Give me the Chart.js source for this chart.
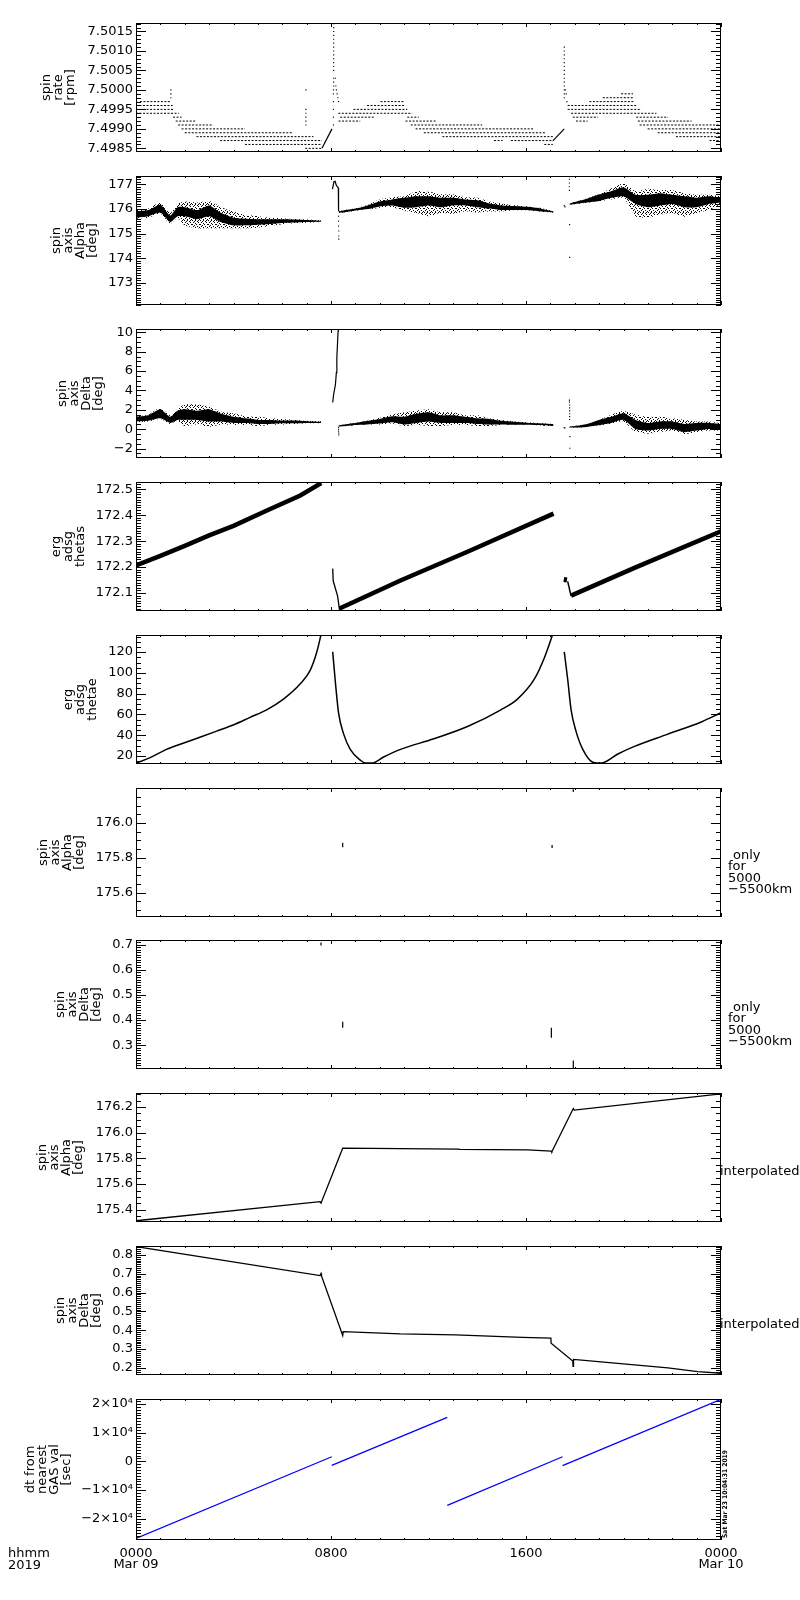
<!DOCTYPE html>
<html>
<head>
<meta charset="utf-8">
<script src="https://cdn.jsdelivr.net/npm/chart.js@4.4.1/dist/chart.umd.min.js"></script>
<style>
  html, body { margin: 0; padding: 0; background: #fff; }
  body { position: relative; width: 800px; height: 1600px; overflow: hidden; }
  canvas { position: absolute; left: 0; }
</style>
</head>
<body>
<script>
// --- eje de tiempo (horas desde 0000 Mar 09) ---
const hourTicks = [0, 8, 16, 24];
const hourLabels = [['0000', 'Mar 09'], '0800', '1600', ['0000', 'Mar 10']];

// --- panel 1: spin rate [rpm], niveles cuantizados [nivel, desde, hasta] ---
const spinBands = [
  [7.4997, 0.16, 1.45], [7.4996, 0.0, 1.5], [7.4995, 0.0, 1.55], [7.4994, 0.0, 1.75],
  [7.4993, 1.52, 1.87], [7.4992, 1.63, 2.48], [7.4991, 1.73, 3.17], [7.4990, 1.87, 4.47],
  [7.4989, 2.0, 6.39], [7.4988, 2.48, 7.28], [7.4987, 3.45, 7.63], [7.4986, 4.47, 7.63],
  [7.4985, 6.94, 7.63],
  [7.4997, 10.03, 11.0], [7.4996, 9.48, 11.06], [7.4995, 8.92, 11.13], [7.4994, 8.3, 11.33],
  [7.4993, 8.38, 9.76], [7.4993, 11.13, 11.6], [7.4992, 8.31, 9.2], [7.4992, 11.06, 12.3],
  [7.4991, 11.27, 14.2], [7.4990, 11.47, 16.34], [7.4989, 11.81, 16.82], [7.4988, 12.57, 17.1],
  [7.4987, 14.69, 15.04], [7.4987, 15.38, 17.1], [7.4986, 16.75, 17.1],
  [7.4999, 19.9, 20.39], [7.4998, 19.15, 20.39], [7.4997, 18.6, 20.45], [7.4996, 17.71, 20.52],
  [7.4995, 17.71, 20.73], [7.4994, 17.85, 21.35], [7.4993, 17.92, 18.95], [7.4993, 20.52, 21.83],
  [7.4992, 18.05, 18.53], [7.4992, 20.59, 22.79], [7.4991, 20.66, 24], [7.4990, 20.99, 24],
  [7.4989, 21.4, 24], [7.4988, 22.15, 24], [7.4987, 23.53, 24]
];
const spinRampA = [[7.63, 7.4985], [8.04, 7.4990]];
const spinRampB = [[17.1, 7.49869], [17.57, 7.4990]];
const spinDots = [
  [1.43, 7.5000], [1.43, 7.4999], [1.43, 7.4998],
  [6.97, 7.5000], [6.97, 7.4995], [6.97, 7.4994], [6.97, 7.4993], [6.97, 7.4992], [6.97, 7.4991],
  [8.1, 7.4991], [8.1, 7.4993], [8.1, 7.4995], [8.1, 7.4997], [8.1, 7.4999], [8.1, 7.5000],
  [8.11, 7.5001], [8.11, 7.5002], [8.11, 7.5003], [8.11, 7.5005], [8.11, 7.5006], [8.11, 7.5007],
  [8.11, 7.5008], [8.11, 7.5009], [8.11, 7.5010], [8.11, 7.5011], [8.11, 7.5012], [8.11, 7.5013],
  [8.11, 7.5014], [8.11, 7.5015], [8.11, 7.5016], [8.11, 7.5017],
  [8.18, 7.5003], [8.2, 7.5001], [8.22, 7.5000], [8.25, 7.4999], [8.28, 7.4998], [8.31, 7.4997],
  [17.57, 7.4998], [17.57, 7.4999], [17.57, 7.5000], [17.57, 7.5001], [17.57, 7.5002], [17.57, 7.5003],
  [17.57, 7.5004], [17.57, 7.5005], [17.57, 7.5006], [17.57, 7.5007], [17.57, 7.5008], [17.57, 7.5009],
  [17.57, 7.5010], [17.57, 7.5011], [17.62, 7.5000], [17.65, 7.4999], [17.68, 7.4997]
];

// --- panel 2: spin axis Alpha, filas [h, exteriorMax, exteriorMin, nucleoMax, nucleoMin] ---
const alphaPartA = [
  [0, 175.95, 175.60, 175.89, 175.64], [0.5, 176.01, 175.64, 175.95, 175.70],
  [1.0, 176.26, 175.80, 176.17, 175.85], [1.4, 175.83, 175.39, 175.73, 175.46],
  [1.7, 176.20, 175.64, 176.07, 175.70], [2.0, 176.30, 175.33, 176.07, 175.70],
  [2.5, 176.26, 175.21, 175.95, 175.58], [3.0, 176.32, 175.21, 176.14, 175.70],
  [3.5, 176.07, 175.21, 175.83, 175.46], [4.0, 175.89, 175.21, 175.64, 175.33],
  [4.5, 175.76, 175.21, 175.60, 175.33], [5.0, 175.70, 175.23, 175.58, 175.36],
  [5.5, 175.64, 175.31, 175.58, 175.39], [6.0, 175.62, 175.38, 175.58, 175.43],
  [6.5, 175.59, 175.42, 175.57, 175.45], [7.0, 175.57, 175.44, 175.55, 175.47],
  [7.6, 175.53, 175.47, 175.52, 175.48]
];
const alphaPartB = [
  [8.31, 175.90, 175.84, 175.89, 175.85], [8.5, 175.94, 175.84, 175.93, 175.85],
  [9.0, 176.02, 175.92, 176.01, 175.93], [9.5, 176.16, 175.97, 176.14, 175.99],
  [10.0, 176.38, 176.05, 176.30, 176.10], [10.5, 176.47, 176.07, 176.38, 176.14],
  [11.0, 176.51, 175.93, 176.45, 176.05], [11.5, 176.72, 175.83, 176.51, 176.07],
  [12.0, 176.69, 175.70, 176.51, 176.14], [12.5, 176.59, 175.83, 176.45, 176.07],
  [13.0, 176.59, 175.80, 176.45, 176.14], [13.5, 176.47, 175.89, 176.38, 176.14],
  [14.0, 176.45, 175.85, 176.35, 176.07], [14.5, 176.30, 175.89, 176.22, 176.01],
  [15.0, 176.22, 175.89, 176.14, 175.95], [15.5, 176.15, 175.94, 176.12, 175.95],
  [16.0, 176.11, 175.94, 176.09, 175.95], [16.5, 176.06, 175.89, 176.04, 175.90],
  [17.13, 175.91, 175.84, 175.90, 175.85]
];
const alphaPartC = [
  [17.78, 176.23, 176.16, 176.22, 176.17], [18.0, 176.29, 176.19, 176.28, 176.20],
  [18.5, 176.42, 176.25, 176.41, 176.26], [19.0, 176.60, 176.31, 176.59, 176.32],
  [19.5, 176.84, 176.38, 176.72, 176.45], [20.0, 177.03, 176.45, 176.88, 176.51],
  [20.5, 176.72, 175.70, 176.57, 176.20], [21.0, 176.82, 175.64, 176.57, 176.07],
  [21.5, 176.76, 175.76, 176.63, 176.14], [22.0, 176.76, 175.83, 176.57, 176.20],
  [22.5, 176.63, 175.68, 176.51, 176.07], [23.0, 176.57, 175.83, 176.45, 176.07],
  [23.5, 176.57, 175.95, 176.51, 176.20], [24.0, 176.51, 176.20, 176.45, 176.26]
];
const alphaSpike = [[8.06, 176.80], [8.12, 177.10], [8.17, 177.12], [8.22, 176.95], [8.3, 176.85], [8.31, 175.90]];
const alphaDots = [
  [8.31, 175.7], [8.31, 175.5], [8.31, 175.3], [8.32, 175.1], [8.32, 174.9], [8.32, 174.77],
  [17.57, 176.13], [17.6, 176.08], [17.78, 177.31], [17.78, 177.2], [17.78, 177.05],
  [17.78, 176.9], [17.78, 176.75], [17.79, 175.36], [17.79, 174.03]
];

// --- panel 3: spin axis Delta ---
const deltaPartA = [
  [0, 1.34, 0.74, 1.28, 0.80], [0.5, 1.50, 0.80, 1.43, 0.87], [1.0, 2.22, 1.06, 2.06, 1.12],
  [1.4, 1.43, 0.55, 1.28, 0.65], [1.7, 2.06, 0.87, 1.91, 0.96], [2.0, 2.54, 0.33, 2.06, 0.96],
  [2.5, 2.54, 0.49, 1.91, 0.96], [3.0, 2.31, 0.24, 2.06, 0.80], [3.5, 1.81, 0.49, 1.59, 0.80],
  [4.0, 1.65, 0.43, 1.28, 0.65], [4.5, 1.34, 0.43, 1.12, 0.65], [5.0, 1.28, 0.33, 0.96, 0.55],
  [5.5, 1.12, 0.43, 0.96, 0.55], [6.0, 1.06, 0.49, 0.90, 0.61], [6.5, 0.96, 0.55, 0.90, 0.61],
  [7.0, 0.87, 0.61, 0.83, 0.65], [7.6, 0.80, 0.61, 0.77, 0.65]
];
const deltaPartB = [
  [8.31, 0.40, 0.26, 0.39, 0.27], [8.5, 0.50, 0.29, 0.49, 0.30], [9.0, 0.66, 0.42, 0.65, 0.43],
  [9.5, 0.88, 0.48, 0.87, 0.49], [10.0, 1.18, 0.49, 1.06, 0.58], [10.5, 1.50, 0.58, 1.34, 0.71],
  [11.0, 1.75, 0.33, 1.28, 0.49], [11.5, 1.91, 0.43, 1.59, 0.65], [12.0, 2.06, 0.33, 1.75, 0.80],
  [12.5, 1.75, 0.33, 1.43, 0.65], [13.0, 1.75, 0.43, 1.43, 0.65], [13.5, 1.43, 0.43, 1.28, 0.65],
  [14.0, 1.43, 0.33, 1.12, 0.55], [14.5, 1.12, 0.33, 1.06, 0.49], [15.0, 0.96, 0.43, 0.87, 0.49],
  [15.5, 0.80, 0.43, 0.77, 0.46], [16.0, 0.71, 0.43, 0.68, 0.46], [16.5, 0.65, 0.39, 0.61, 0.43],
  [17.13, 0.55, 0.30, 0.52, 0.33]
];
const deltaPartC = [
  [17.78, 0.28, 0.16, 0.27, 0.17], [18.0, 0.34, 0.16, 0.33, 0.17], [18.5, 0.56, 0.23, 0.55, 0.24],
  [19.0, 0.97, 0.42, 0.96, 0.43], [19.5, 1.50, 0.55, 1.28, 0.65], [20.0, 1.87, 0.80, 1.65, 0.96],
  [20.5, 1.50, -0.30, 0.96, 0.02], [21.0, 1.28, -0.46, 0.65, -0.14], [21.5, 1.28, -0.30, 0.80, 0.02],
  [22.0, 1.12, -0.14, 0.80, 0.02], [22.5, 0.96, -0.52, 0.55, -0.30], [23.0, 0.80, -0.30, 0.65, -0.14],
  [23.5, 0.80, -0.14, 0.65, 0.02], [24.0, 0.65, -0.14, 0.55, 0.02]
];
const deltaSpike = [[8.07, 2.76], [8.11, 3.64], [8.18, 4.58], [8.22, 5.84], [8.24, 7.42], [8.27, 9.0], [8.29, 10.1], [8.3, 10.6]];
const deltaDots = [
  [8.31, 0.2], [8.31, 0.0], [8.31, -0.2], [8.32, -0.4], [8.32, -0.6],
  [17.57, 0.17], [17.6, 0.13], [17.78, 3.01], [17.78, 2.8], [17.79, 2.5], [17.79, 2.2],
  [17.79, 1.9], [17.79, 1.6], [17.79, 1.3], [17.79, 1.0], [17.8, -0.77], [17.8, -1.97]
];

// --- panel 4: erg adsg thetas ---
const thetasA = [[0, 172.206], [1, 172.243], [2, 172.282], [3, 172.322], [4, 172.359], [5.37, 172.418], [6.74, 172.476], [7.6, 172.524]];
const thetasB = [[8.07, 172.194], [8.09, 172.147], [8.27, 172.088], [8.35, 172.035]];
const thetasC = [[8.35, 172.04], [10.85, 172.148], [13.6, 172.259], [17.13, 172.406]];
const thetasD1 = [[17.55, 172.152], [17.68, 172.150]];
const thetasD2 = [[17.71, 172.145], [17.85, 172.088]];
const thetasD3 = [[17.85, 172.09], [20.45, 172.197], [24, 172.338]];

// --- panel 5: erg adsg thetae ---
const thetaeA = [[0, 13.2], [0.56, 18.2], [1.25, 26.4], [1.93, 32.3], [2.62, 38.1], [3.31, 44.0], [3.99, 49.9],
  [4.68, 57.2], [5.36, 64.5], [6.05, 74.8], [6.74, 89.5], [7.15, 102.7], [7.42, 120.3], [7.59, 136.7]];
const thetaeB = [[8.07, 120.3], [8.18, 91], [8.31, 61.6], [8.52, 41.1], [8.79, 26.4], [9.2, 16.1], [9.41, 13.2],
  [9.68, 13.2], [10.16, 19.1], [10.85, 26.4], [12.22, 36.6], [13.6, 48.4], [14.97, 64.5], [15.65, 74.8],
  [16.34, 93.9], [16.75, 114.4], [17.09, 136.7]];
const thetaeC = [[17.57, 120.3], [17.71, 93.9], [17.85, 64.5], [18.05, 44.0], [18.33, 26.4], [18.74, 14.1],
  [19.08, 13.2], [19.77, 22.0], [20.45, 29.3], [21.82, 41.1], [23.19, 52.8], [24, 61.6]];

// --- paneles 6 y 7: solo 5000-5500 km ---
const alphaShell = [
  [[8.48, 175.887], [8.48, 175.861]],
  [[17.07, 175.874], [17.07, 175.856]],
  [[17.94, 176.195], [17.94, 176.178]]
];
const deltaShell = [
  [[7.59, 0.708], [7.59, 0.696]],
  [[8.48, 0.393], [8.48, 0.369]],
  [[17.04, 0.369], [17.04, 0.330]],
  [[17.94, 0.239], [17.94, 0.209]]
];

// --- paneles 8 y 9: interpolados ---
const alphaInterp = [[0, 175.315], [7.55, 175.464], [7.59, 175.452], [8.48, 175.880], [13.25, 175.873],
  [13.26, 175.870], [16.06, 175.866], [17.04, 175.856], [17.06, 175.852], [17.94, 176.188],
  [17.98, 176.176], [24, 176.302]];
const deltaInterp = [[0, 0.844], [7.55, 0.690], [7.59, 0.701], [7.61, 0.688], [8.48, 0.372], [8.5, 0.393],
  [10.85, 0.381], [13.11, 0.376], [15.85, 0.362], [17.02, 0.358], [17.03, 0.331], [17.92, 0.237],
  [17.93, 0.209], [17.95, 0.245], [19.08, 0.232], [20.45, 0.216], [21.82, 0.200], [23.05, 0.180], [24, 0.172]];

// --- panel 10: dt desde el valor GAS más cercano [s] ---
const dtSegments = [
  [[0, -26860], [8.03, 1600]],
  [[8.03, -1400], [12.77, 15350]],
  [[12.77, -15350], [17.5, 1600]],
  [[17.5, -1500], [24, 21630]]
];

// --- ticks de los ejes Y ---
const p1Ticks = [7.4985, 7.4990, 7.4995, 7.5000, 7.5005, 7.5010, 7.5015];
const p2Ticks = [173, 174, 175, 176, 177];
const p3Ticks = [-2, 0, 2, 4, 6, 8, 10];
const p4Ticks = [172.1, 172.2, 172.3, 172.4, 172.5];
const p5Ticks = [20, 40, 60, 80, 100, 120];
const p6Ticks = [175.6, 175.8, 176.0];
const p7Ticks = [0.3, 0.4, 0.5, 0.6, 0.7];
const p8Ticks = [175.4, 175.6, 175.8, 176.0, 176.2];
const p9Ticks = [0.2, 0.3, 0.4, 0.5, 0.6, 0.7, 0.8];
const p10Ticks = [-20000, -10000, 0, 10000, 20000];
const p10Labels = ['\u22122\u00d710\u2074', '\u22121\u00d710\u2074', '0', '1\u00d710\u2074', '2\u00d710\u2074'];

// --- HELPERS ---
Chart.defaults.font.family = "'DejaVu Sans', sans-serif";
Chart.defaults.font.size = 13;
Chart.defaults.color = '#000';

const PANEL_H = 141;
const PLOT_LEFT = 136, PLOT_RIGHT = 721;
const fmt = d => v => (v < 0 ? '\u2212' : '') + Math.abs(v).toFixed(d);
const toXY = rows => rows.map(r => ({ x: r[0], y: r[1] }));

// trama de puntos (fija) para imitar la nube dispersa alrededor del núcleo
const SPECKLE_PIX = [[0, 0], [3, 0], [5, 1], [1, 2], [6, 2], [3, 3], [0, 4], [4, 4], [7, 4],
  [2, 5], [5, 6], [1, 6], [7, 7], [3, 7], [6, 0], [2, 1]];
function speckle() {
  const c = document.createElement('canvas');
  c.width = 8; c.height = 8;
  const g = c.getContext('2d');
  g.fillStyle = '#000';
  SPECKLE_PIX.forEach(p => g.fillRect(p[0], p[1], 1, 1));
  return g.createPattern(c, 'repeat');
}
const speckleFill = speckle();

function lineSet(rows, width, color, extra) {
  return Object.assign({ data: toXY(rows), borderColor: color || '#000', borderWidth: width || 1,
    pointRadius: 0, fill: false, tension: 0 }, extra || {});
}
function dotSet(rows, r) {
  return { data: toXY(rows), showLine: false, pointRadius: r || 0.9, pointStyle: 'rect',
    pointBackgroundColor: '#000', pointBorderWidth: 0 };
}
function bandSets(rows) {
  const col = k => rows.map(r => ({ x: r[0], y: r[k] }));
  const base = { borderColor: 'transparent', borderWidth: 1, pointRadius: 0, tension: 0.2 };
  return [
    Object.assign({ data: col(2), fill: false }, base),
    Object.assign({ data: col(1), fill: '-1', backgroundColor: speckleFill }, base),
    Object.assign({ data: col(4), fill: false }, base),
    Object.assign({ data: col(3), fill: '-1', backgroundColor: '#000' }, base)
  ];
}

// marco estilo IDL con ticks hacia adentro en los cuatro lados
function idlFrame(cfg, canvasTop) {
  return {
    id: 'idlFrame',
    afterDraw(chart) {
      const { ctx, chartArea: a, scales: { x, y } } = chart;
      ctx.save();
      ctx.strokeStyle = '#000';
      ctx.lineWidth = 1;
      ctx.strokeRect(a.left + 0.5, a.top + 0.5, a.right - a.left - 1, a.bottom - a.top - 1);
      ctx.beginPath();
      const n0 = Math.ceil(y.min / cfg.minor - 1e-6), n1 = Math.floor(y.max / cfg.minor + 1e-6);
      for (let n = n0; n <= n1; n++) {
        const py = Math.round(y.getPixelForValue(n * cfg.minor)) + 0.5;
        ctx.moveTo(a.left, py); ctx.lineTo(a.left + 5, py);
        ctx.moveTo(a.right, py); ctx.lineTo(a.right - 5, py);
      }
      cfg.ticks.forEach(v => {
        const py = Math.round(y.getPixelForValue(v)) + 0.5;
        ctx.moveTo(a.left, py); ctx.lineTo(a.left + 10, py);
        ctx.moveTo(a.right, py); ctx.lineTo(a.right - 10, py);
      });
      for (let h = 0; h <= 24; h++) {
        const px = Math.round(x.getPixelForValue(h)) + 0.5;
        const len = h % 8 === 0 ? 4 : 2;
        ctx.moveTo(px, a.top); ctx.lineTo(px, a.top + len);
        ctx.moveTo(px, a.bottom); ctx.lineTo(px, a.bottom - len);
      }
      ctx.stroke();
      (cfg.texts || []).forEach(t => {
        ctx.save();
        ctx.font = t.font || "13px 'DejaVu Sans'";
        ctx.fillStyle = '#000';
        ctx.textAlign = t.align || 'left';
        ctx.textBaseline = 'middle';
        ctx.translate(t.x, t.y - canvasTop);
        if (t.rot) ctx.rotate(t.rot);
        if (t.maxW) ctx.fillText(t.t, 0, 0, t.maxW); else ctx.fillText(t.t, 0, 0);
        ctx.restore();
      });
      ctx.restore();
    }
  };
}

function rightNote(lines, top) {
  const offs = [67.5, 79, 90.5, 102];
  return lines.map((t, i) => ({ t, x: i === 0 ? 733 : 728, y: top + offs[i] }));
}

function makePanel(i, cfg) {
  const top = 23 + Math.round(i * 152.9);
  const isLast = i === 9;
  const cTop = top - 12;
  const h = isLast ? 1600 - cTop : PANEL_H + 24;
  const canvas = document.createElement('canvas');
  canvas.width = 800; canvas.height = h;
  canvas.style.top = cTop + 'px';
  canvas.style.width = '800px'; canvas.style.height = h + 'px';
  document.body.appendChild(canvas);
  const texts = (cfg.texts || []);
  if (cfg.note === 'shell') texts.push(...rightNote(['only', 'for', '5000', '\u22125500km'], top));
  if (cfg.note === 'interp') texts.push({ t: 'interpolated', x: 720, y: top + 78.5 });
  new Chart(canvas, {
    type: 'line',
    data: { datasets: cfg.datasets },
    options: {
      responsive: false, animation: false, devicePixelRatio: 1,
      layout: { padding: { left: 0, right: 800 - PLOT_RIGHT, top: 12, bottom: isLast ? 0 : 12 } },
      plugins: { legend: { display: false }, tooltip: { enabled: false } },
      elements: { line: { borderCapStyle: 'butt' } },
      scales: {
        x: {
          type: 'linear', min: 0, max: 24, display: isLast,
          grid: { display: false, drawTicks: false }, border: { display: false },
          afterBuildTicks: s => { s.ticks = hourTicks.map(v => ({ value: v })); },
          afterFit: s => { s.height = h - 12 - PANEL_H; },
          ticks: { callback: (v, k) => hourLabels[k], autoSkip: false, maxRotation: 0, padding: 7.5,
            font: { size: 13, lineHeight: 0.9 } }
        },
        y: {
          type: 'linear', min: cfg.min, max: cfg.max,
          grid: { display: false, drawTicks: false }, border: { display: false },
          afterBuildTicks: s => { s.ticks = cfg.ticks.map(v => ({ value: v })); },
          afterFit: s => { s.width = PLOT_LEFT; },
          ticks: { callback: (v, k) => cfg.labels[k], autoSkip: false, padding: 3 },
          title: { display: true, text: cfg.title, padding: { top: cfg.titleX - 6, bottom: 0 },
            font: { size: 13, lineHeight: 12 / 13 } }
        }
      }
    },
    plugins: [idlFrame({ ticks: cfg.ticks, minor: cfg.minor, texts }, cTop)]
  });
}

// --- CONSTRUCCIÓN DE LOS PANELES ---
const panels = [
  {
    min: 7.498406, max: 7.501718, ticks: p1Ticks, labels: p1Ticks.map(fmt(4)), minor: 0.0001,
    title: ['spin', 'rate', '[rpm]'], titleX: 46.5,
    datasets: [
      ...spinBands.map(b => lineSet([[b[1], b[0]], [b[2], b[0]]], 1, '#000', { borderDash: [2, 1.5] })),
      lineSet(spinRampA, 1.2), lineSet(spinRampB, 1.2), dotSet(spinDots, 0.8)
    ]
  },
  {
    min: 172.098, max: 177.334, ticks: p2Ticks, labels: p2Ticks.map(String), minor: 0.1,
    title: ['spin', 'axis', 'Alpha', '[deg]'], titleX: 57,
    datasets: [...bandSets(alphaPartA), ...bandSets(alphaPartB), ...bandSets(alphaPartC),
      lineSet(alphaSpike, 1.2), dotSet(alphaDots, 0.8)]
  },
  {
    min: -2.973, max: 10.35, ticks: p3Ticks, labels: p3Ticks.map(fmt(0)), minor: 0.5,
    title: ['spin', 'axis', 'Delta', '[deg]'], titleX: 62.5,
    datasets: [...bandSets(deltaPartA), ...bandSets(deltaPartB), ...bandSets(deltaPartC),
      lineSet(deltaSpike, 1.2), dotSet(deltaDots, 0.8)]
  },
  {
    min: 172.0305, max: 172.5282, ticks: p4Ticks, labels: p4Ticks.map(fmt(1)), minor: 0.01,
    title: ['erg', 'adsg', 'thetas'], titleX: 56.7,
    datasets: [lineSet(thetasA, 4.5), lineSet(thetasB, 1.3), lineSet(thetasC, 4.5),
      lineSet(thetasD1, 5), lineSet(thetasD2, 1.5), lineSet(thetasD3, 4.5)]
  },
  {
    min: 12.34, max: 136.46, ticks: p5Ticks, labels: p5Ticks.map(String), minor: 5,
    title: ['erg', 'adsg', 'thetae'], titleX: 68.3,
    datasets: [thetaeA, thetaeB, thetaeC].map(s => lineSet(s, 1.5, '#000', { cubicInterpolationMode: 'monotone' }))
  },
  {
    min: 175.4595, max: 176.2016, ticks: p6Ticks, labels: p6Ticks.map(fmt(1)), minor: 0.05,
    title: ['spin', 'axis', 'Alpha', '[deg]'], titleX: 43.3, note: 'shell',
    datasets: alphaShell.map(s => lineSet(s, 1.2))
  },
  {
    min: 0.2055, max: 0.7182, ticks: p7Ticks, labels: p7Ticks.map(fmt(1)), minor: 0.01,
    title: ['spin', 'axis', 'Delta', '[deg]'], titleX: 61, note: 'shell',
    datasets: deltaShell.map(s => lineSet(s, 1.2))
  },
  {
    min: 175.3053, max: 176.309, ticks: p8Ticks, labels: p8Ticks.map(fmt(1)), minor: 0.05,
    title: ['spin', 'axis', 'Alpha', '[deg]'], titleX: 42.5, note: 'interp',
    datasets: [lineSet(alphaInterp, 1.3)]
  },
  {
    min: 0.1626, max: 0.8471, ticks: p9Ticks, labels: p9Ticks.map(fmt(1)), minor: 0.01,
    title: ['spin', 'axis', 'Delta', '[deg]'], titleX: 60.8, note: 'interp',
    datasets: [lineSet(deltaInterp, 1.3)]
  },
  {
    min: -27428, max: 21744, ticks: p10Ticks, labels: p10Labels, minor: 1000,
    title: ['dt from', 'nearest', 'GAS val', '[sec]'], titleX: 30.8,
    datasets: dtSegments.map(s => lineSet(s, 1.3, '#0000ff')),
    texts: [
      { t: 'hhmm', x: 8, y: 1553.5 },
      { t: '2019', x: 8, y: 1565.5 },
      { t: 'Sat Mar 23 10:04:31 2019', x: 725, y: 1538, rot: -Math.PI / 2,
        font: "bold 6.5px 'DejaVu Sans'", maxW: 88 }
    ]
  }
];

panels.forEach((cfg, i) => makePanel(i, cfg));
</script>
</body>
</html>
